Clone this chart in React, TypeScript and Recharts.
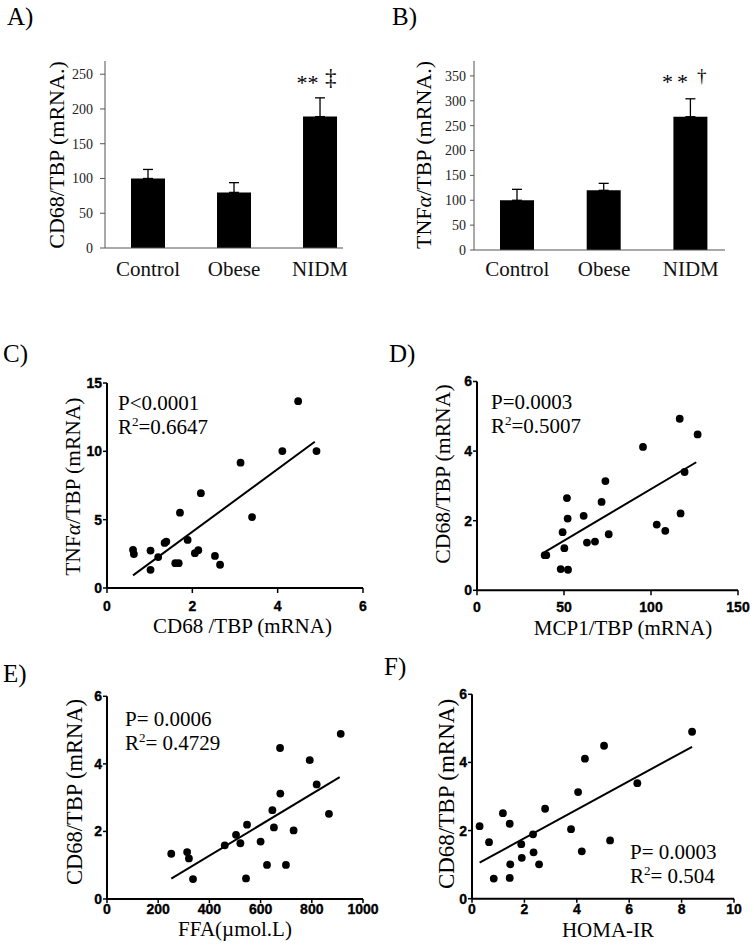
import React from 'react';
import { ComposedChart, Bar, ErrorBar, XAxis, YAxis, ReferenceArea, ScatterChart, Scatter } from 'recharts';

// ---------- Panels A & B (bar charts) ----------
const groups = ['Control', 'Obese', 'NIDM'];
const groupIndex = [0, 1, 2];
const cd68Means = [100, 80, 189];
const cd68Errors = [13, 14, 27];
const tnfMeans = [100, 120, 268];
const tnfErrors = [22, 14, 36];
const cd68BarTicks = [0, 50, 100, 150, 200, 250];
const tnfBarTicks = [0, 50, 100, 150, 200, 250, 300, 350];

// ---------- Panel C: CD68 vs TNFa ----------
const cCd68 = [4.48, 4.11, 4.91, 3.13, 2.2, 1.71, 3.4, 1.89, 1.35, 1.39, 0.61, 0.63, 1.02, 1.2, 1.02, 1.6, 1.68, 2.06, 2.14, 2.53, 2.65];
const cTnf = [13.67, 10.02, 10.02, 9.17, 6.94, 5.51, 5.19, 3.52, 3.3, 3.4, 2.79, 2.48, 2.74, 2.26, 1.33, 1.82, 1.82, 2.55, 2.77, 2.35, 1.7];
const cFitX = [0.61, 4.87];
const cFitY = [0.92, 10.7];
const cXTicks = [0, 2, 4, 6];
const cYTicks = [0, 5, 10, 15];

// ---------- Panel D: MCP1 vs CD68 ----------
const dMcp1 = [116.5, 126.8, 95.4, 73.8, 119.3, 51.7, 71.6, 61.3, 52.1, 117.0, 49.2, 103.3, 108.2, 75.7, 63.2, 67.8, 50.2, 38.9, 39.8, 48.1, 52.3];
const dCd68 = [4.93, 4.48, 4.12, 3.14, 3.4, 2.65, 2.54, 2.14, 2.06, 2.21, 1.67, 1.89, 1.71, 1.61, 1.37, 1.4, 1.21, 1.01, 1.01, 0.61, 0.59];
const dFitX = [38.9, 126];
const dFitY = [1.1, 3.68];
const dXTicks = [0, 50, 100, 150];
const dYTicks = [0, 2, 4, 6];

// ---------- Panel E: FFA vs CD68 ----------
const eFfa = [913, 676, 792, 819, 677, 646, 867, 652, 547, 729, 504, 521, 600, 460, 251, 313, 320, 336, 543, 625, 699];
const eCd68 = [4.89, 4.47, 4.11, 3.39, 3.12, 2.63, 2.52, 2.12, 2.2, 2.03, 1.9, 1.65, 1.7, 1.59, 1.34, 1.39, 1.2, 0.59, 0.61, 1.01, 1.01];
const eFitX = [251, 909];
const eFitY = [0.6, 3.61];
const eXTicks = [0, 200, 400, 600, 800, 1000];
const eYTicks = [0, 2, 4, 6];

// ---------- Panel F: HOMA-IR vs CD68 ----------
const fHoma = [8.4, 5.04, 4.31, 6.31, 4.05, 2.79, 1.18, 0.29, 1.44, 3.78, 2.33, 0.65, 1.88, 5.27, 2.35, 4.19, 1.9, 1.46, 2.56, 0.83, 1.44];
const fCd68 = [4.9, 4.49, 4.11, 3.39, 3.13, 2.64, 2.51, 2.13, 2.2, 2.04, 1.89, 1.66, 1.6, 1.71, 1.36, 1.39, 1.2, 1.01, 1.01, 0.59, 0.61];
const fFitX = [0.29, 8.4];
const fFitY = [1.06, 4.46];
const fXTicks = [0, 2, 4, 6, 8, 10];
const fYTicks = [0, 2, 4, 6];

const SERIF = "'Liberation Serif', 'Times New Roman', Times, serif";
const NARROW = "'Liberation Sans Narrow', 'Arial Narrow', 'Liberation Sans', Arial, sans-serif";

const barData = (means: number[], errs: number[]) =>
  groupIndex.map((idx, i) => ({ idx, mean: means[i], err: [0, errs[i]] }));
const pts = (xs: number[], ys: number[]) => xs.map((x, i) => ({ x, y: ys[i] }));

function BarPanel(p: any) {
  return (
    <div style={{ position: 'absolute', left: p.left, top: p.top }}>
      <ComposedChart width={p.width} height={p.height} data={p.data} margin={p.margin}>
        <XAxis
          type="number"
          dataKey="idx"
          domain={p.xDomain}
          ticks={groupIndex}
          interval={0}
          allowDataOverflow
          tickFormatter={(v: number) => groups[v]}
          height={30}
          axisLine={{ stroke: '#555', strokeWidth: 1 }}
          tickLine={false}
          tickSize={0}
          tickMargin={p.xTickMargin}
          tick={{ fill: '#111', fontSize: 21, fontFamily: SERIF }}
        />
        <YAxis
          type="number"
          domain={p.yDomain}
          ticks={p.yTicks}
          interval={0}
          allowDataOverflow
          width={p.yWidth}
          axisLine={{ stroke: '#555', strokeWidth: 1 }}
          tickLine={{ stroke: '#555', strokeWidth: 1 }}
          tickSize={p.yTickSize}
          tickMargin={p.yTickMargin}
          tick={{ fill: '#222', fontSize: 14, fontFamily: SERIF }}
        />
        <ReferenceArea fill="none" fillOpacity={0} stroke="#555" strokeWidth={1} ifOverflow="visible" />
        <Bar dataKey="mean" fill="#000" barSize={34} isAnimationActive={false}>
          <ErrorBar dataKey="err" width={5} stroke="#000" strokeWidth={1.3} direction="y" />
        </Bar>
      </ComposedChart>
    </div>
  );
}

const Dot = (props: any) => <circle cx={props.cx} cy={props.cy} r={3.9} fill="#000" />;
const NoDot = () => <g />;

function ScatterPanel(p: any) {
  const tickStyle = { fill: '#000', fontSize: 14, fontFamily: NARROW, fontWeight: 700, stroke: '#000', strokeWidth: 0.35 };
  return (
    <div style={{ position: 'absolute', left: p.left, top: p.top }}>
      <ScatterChart width={p.width} height={p.height} margin={p.margin} style={{ overflow: 'visible' }}>
        <XAxis
          type="number"
          dataKey="x"
          domain={p.xDomain}
          ticks={p.xTicks}
          interval={0}
          allowDataOverflow
          height={p.xHeight}
          axisLine={{ stroke: '#000', strokeWidth: 2 }}
          tickLine={{ stroke: '#000', strokeWidth: 1.5 }}
          tickSize={p.xTickSize}
          tickMargin={p.xTickMargin}
          tick={tickStyle}
        />
        <YAxis
          type="number"
          dataKey="y"
          domain={p.yDomain}
          ticks={p.yTicks}
          interval={0}
          allowDataOverflow
          width={p.yWidth}
          axisLine={{ stroke: '#000', strokeWidth: 2 }}
          tickLine={{ stroke: '#000', strokeWidth: 1.5 }}
          tickSize={4}
          tickMargin={1}
          tick={tickStyle}
        />
        <ReferenceArea fill="none" fillOpacity={0} stroke="#000" strokeWidth={1.5} ifOverflow="visible" />
        <Scatter data={p.fit} line={{ stroke: '#000', strokeWidth: 2 }} shape={NoDot} isAnimationActive={false} />
        <Scatter data={p.points} shape={Dot} isAnimationActive={false} />
      </ScatterChart>
    </div>
  );
}

const rotTitle = (x: number, y: number, size: number, children: any) => (
  <text
    transform={`translate(${x},${y}) rotate(-90)`}
    textAnchor="middle"
    dominantBaseline="central"
    fontFamily={SERIF}
    fontSize={size}
    fill="#000"
  >
    {children}
  </text>
);

const stat = (x: number, y: number, p: string, r: string) => (
  <g fontFamily={SERIF} fontSize={21} fill="#000">
    <text x={x} y={y}>{p}</text>
    <text x={x} y={y + 24}>
      R<tspan fontSize={13} dy={-8}>2</tspan>
      <tspan dy={8}>{r}</tspan>
    </text>
  </g>
);

export default function App() {
  return (
    <div style={{ position: 'absolute', left: 0, top: 0, width: 754, height: 949, background: '#fff', overflow: 'hidden' }}>
      <BarPanel
        left={0} top={0} width={360} height={300}
        margin={{ top: 61, right: 17, bottom: 22, left: 0 }}
        yWidth={105}
        data={barData(cd68Means, cd68Errors)}
        xDomain={[-0.5, 2.267]}
        yDomain={[0, 269]}
        yTicks={cd68BarTicks}
        xTickMargin={13}
        yTickSize={5}
        yTickMargin={7}
      />
      <BarPanel
        left={377} top={0} width={377} height={300}
        margin={{ top: 61, right: 29, bottom: 20, left: 0 }}
        yWidth={97}
        data={barData(tnfMeans, tnfErrors)}
        xDomain={[-0.5, 2.395]}
        yDomain={[0, 380]}
        yTicks={tnfBarTicks}
        xTickMargin={11}
        yTickSize={4}
        yTickMargin={4}
      />
      <ScatterPanel
        left={0} top={330} width={377} height={320}
        margin={{ top: 53, right: 14, bottom: 0, left: 0 }}
        yWidth={107} xHeight={62}
        xDomain={[0, 6]} yDomain={[0, 15]} xTicks={cXTicks} yTicks={cYTicks}
        xTickSize={5} xTickMargin={8}
        points={pts(cCd68, cTnf)} fit={pts(cFitX, cFitY)}
      />
      <ScatterPanel
        left={377} top={330} width={377} height={320}
        margin={{ top: 51.5, right: 16, bottom: 0, left: 0 }}
        yWidth={100} xHeight={59.7}
        xDomain={[0, 150]} yDomain={[0, 6]} xTicks={dXTicks} yTicks={dYTicks}
        xTickSize={5} xTickMargin={7}
        points={pts(dMcp1, dCd68)} fit={pts(dFitX, dFitY)}
      />
      <ScatterPanel
        left={0} top={640} width={395} height={309}
        margin={{ top: 56.3, right: 32, bottom: 0, left: 0 }}
        yWidth={107} xHeight={50}
        xDomain={[0, 1000]} yDomain={[0, 6]} xTicks={eXTicks} yTicks={eYTicks}
        xTickSize={4} xTickMargin={1}
        points={pts(eFfa, eCd68)} fit={pts(eFitX, eFitY)}
      />
      <ScatterPanel
        left={377} top={640} width={377} height={309}
        margin={{ top: 54.3, right: 20, bottom: 0, left: 0 }}
        yWidth={95} xHeight={50.3}
        xDomain={[0, 10]} yDomain={[0, 6]} xTicks={fXTicks} yTicks={fYTicks}
        xTickSize={4} xTickMargin={1}
        points={pts(fHoma, fCd68)} fit={pts(fFitX, fFitY)}
      />
      <svg width={754} height={949} style={{ position: 'absolute', left: 0, top: 0, pointerEvents: 'none' }}>
        <g fontFamily={SERIF} fontSize={25} fill="#000">
          <text x={7} y={25}>A)</text>
          <text x={392} y={25}>B)</text>
          <text x={3} y={361.5}>C)</text>
          <text x={389} y={361.5}>D)</text>
          <text x={3} y={681.5}>E)</text>
          <text x={384} y={675}>F)</text>
        </g>
        {/* significance marks */}
        <g fontFamily={SERIF} fill="#000">
          <text x={296.5} y={90} fontSize={22}>**</text>
          <text x={325} y={85} fontSize={23}>‡</text>
          <text x={662} y={89} fontSize={22} letterSpacing={4}>**</text>
          <text x={697} y={82} fontSize={19}>†</text>
        </g>
        {/* y axis titles */}
        {rotTitle(56, 155, 22, 'CD68/TBP (mRNA.)')}
        {rotTitle(423, 155, 22, <>TNF<tspan fontStyle="italic">α</tspan>/TBP (mRNA.)</>)}
        {rotTitle(72.5, 486.7, 21.5, <>TNF<tspan fontStyle="italic">α</tspan>/TBP (mRNA)</>)}
        {rotTitle(443, 474, 21.7, 'CD68/TBP (mRNA)')}
        {rotTitle(74, 792, 22.5, 'CD68/TBP (mRNA)')}
        {rotTitle(446, 794, 23, 'CD68/TBP (mRNA)')}
        {/* x axis titles */}
        <g fontFamily={SERIF} fontSize={21} fill="#000" textAnchor="middle">
          <text x={242.5} y={633}>CD68 /TBP (mRNA)</text>
          <text x={623} y={635}>MCP1/TBP (mRNA)</text>
          <text x={235} y={935.5}>FFA(µmol.L)</text>
          <text x={608} y={936.5}>HOMA-IR</text>
        </g>
        {/* statistics */}
        {stat(118, 410, 'P<0.0001', '=0.6647')}
        {stat(491, 409, 'P=0.0003', '=0.5007')}
        {stat(125, 726, 'P= 0.0006', '= 0.4729')}
        {stat(630, 859, 'P= 0.0003', '= 0.504')}
      </svg>
    </div>
  );
}
